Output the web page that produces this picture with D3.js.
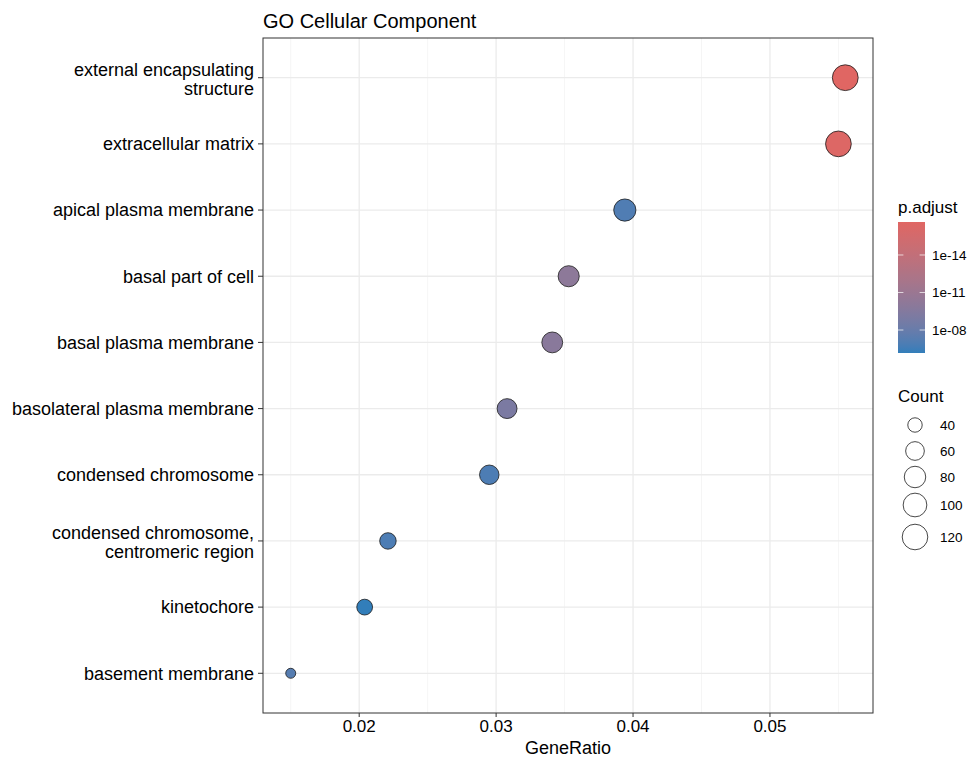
<!DOCTYPE html>
<html>
<head>
<meta charset="utf-8">
<script src="https://cdn.jsdelivr.net/npm/d3@7"></script>
<style>
  body { margin: 0; background: #fff; }
  text { font-family: "Liberation Sans", Arial, sans-serif; fill: #000; }
</style>
</head>
<body>
<script>
// GO terms, top to bottom
const terms = [
    "external encapsulating structure",
    "extracellular matrix",
    "apical plasma membrane",
    "basal part of cell",
    "basal plasma membrane",
    "basolateral plasma membrane",
    "condensed chromosome",
    "condensed chromosome, centromeric region",
    "kinetochore",
    "basement membrane"
];
const geneRatio = [0.0555, 0.0550, 0.0394, 0.0353, 0.0341, 0.0308, 0.0295, 0.0221, 0.0204, 0.0150];
const counts = [122, 121, 86, 77, 75, 68, 65, 48, 45, 33];
const pAdjust = [2.3e-17, 4.0e-17, 1.0e-7, 8.0e-11, 1.5e-10, 1.0e-9, 1.2e-7, 1.2e-7, 6.9e-7, 6.0e-8];

const xTicks = [0.02, 0.03, 0.04, 0.05];
const xMinor = [0.015, 0.025, 0.035, 0.045, 0.055];
const pTicks = [1e-14, 1e-11, 1e-8];
const pTickLabels = ["1e-14", "1e-11", "1e-08"];
const countBreaks = [40, 60, 80, 100, 120];

const width = 970, height = 760;
const panel = {left: 263, right: 873, top: 38, bottom: 713};

const svg = d3.select("body").append("svg")
    .attr("width", width)
    .attr("height", height);

// wrap labels at 30 characters, like str_wrap
function wrap(s, n = 30) {
    const words = s.split(" ");
    const lines = [];
    let cur = "";
    words.forEach(w => {
        if (cur.length === 0) cur = w;
        else if ((cur + " " + w).length > n) { lines.push(cur); cur = w; }
        else cur += " " + w;
    });
    lines.push(cur);
    return lines;
}

// scales
const xExt = d3.extent(geneRatio);
const xPad = (xExt[1] - xExt[0]) * 0.05;
const x = d3.scaleLinear()
    .domain([xExt[0] - xPad, xExt[1] + xPad])
    .range([panel.left, panel.right]);

const y = d3.scalePoint()
    .domain(terms)
    .range([panel.top, panel.bottom])
    .padding(0.6);

const pExt = d3.extent(pAdjust);
const color = d3.scaleLog()
    .domain(pExt)
    .range(["#e06663", "#327eba"])
    .interpolate(d3.interpolateLab);

const sizeNorm = d3.scaleLinear().domain(d3.extent(counts)).range([0, 1]);
const sizeR = d3.scaleSqrt().domain([0, 1]).range([5.0, 12.9]);
const radius = c => sizeR(Math.max(0, sizeNorm(c)));

// grid
const grid = svg.append("g");
grid.selectAll(".minor")
    .data(xMinor)
    .join("line")
    .attr("x1", d => x(d)).attr("x2", d => x(d))
    .attr("y1", panel.top).attr("y2", panel.bottom)
    .attr("stroke", "#f0f0f0").attr("stroke-width", 0.7);
grid.selectAll(".major")
    .data(xTicks)
    .join("line")
    .attr("x1", d => x(d)).attr("x2", d => x(d))
    .attr("y1", panel.top).attr("y2", panel.bottom)
    .attr("stroke", "#ebebeb").attr("stroke-width", 1.3);
grid.selectAll(".ygrid")
    .data(terms)
    .join("line")
    .attr("x1", panel.left).attr("x2", panel.right)
    .attr("y1", d => y(d)).attr("y2", d => y(d))
    .attr("stroke", "#ebebeb").attr("stroke-width", 1.3);

// points
svg.append("g").selectAll("circle")
    .data(terms.map((t, i) => ({term: t, ratio: geneRatio[i], count: counts[i], p: pAdjust[i]})))
    .join("circle")
    .attr("cx", d => x(d.ratio))
    .attr("cy", d => y(d.term))
    .attr("r", d => radius(d.count))
    .attr("fill", d => color(d.p))
    .attr("stroke", "#1a1a1a")
    .attr("stroke-width", 0.8);

// panel border
svg.append("rect")
    .attr("x", panel.left).attr("y", panel.top)
    .attr("width", panel.right - panel.left)
    .attr("height", panel.bottom - panel.top)
    .attr("fill", "none")
    .attr("stroke", "#333333")
    .attr("stroke-width", 1);

// x axis
const xAxis = svg.append("g");
xAxis.selectAll("line")
    .data(xTicks)
    .join("line")
    .attr("x1", d => x(d)).attr("x2", d => x(d))
    .attr("y1", panel.bottom).attr("y2", panel.bottom + 4)
    .attr("stroke", "#333333");
xAxis.selectAll("text")
    .data(xTicks)
    .join("text")
    .attr("x", d => x(d))
    .attr("y", panel.bottom + 19)
    .attr("text-anchor", "middle")
    .style("font-size", "17px")
    .text(d => d3.format(".2f")(d));

svg.append("text")
    .attr("x", (panel.left + panel.right) / 2)
    .attr("y", 754)
    .attr("text-anchor", "middle")
    .style("font-size", "18px")
    .text("GeneRatio");

// y axis
const yAxis = svg.append("g");
yAxis.selectAll("line")
    .data(terms)
    .join("line")
    .attr("x1", panel.left - 5).attr("x2", panel.left)
    .attr("y1", d => y(d)).attr("y2", d => y(d))
    .attr("stroke", "#333333");
yAxis.selectAll("text")
    .data(terms)
    .join("text")
    .attr("text-anchor", "end")
    .style("font-size", "18px")
    .each(function(d) {
        const lines = wrap(d);
        const lh = 19;
        const y0 = y(d) - (lines.length - 1) * lh / 2 + (lines.length > 1 ? 8 : 6.3);
        d3.select(this).selectAll("tspan")
            .data(lines)
            .join("tspan")
            .attr("x", panel.left - 9)
            .attr("y", (l, i) => y0 + i * lh)
            .text(l => l);
    });

// title
svg.append("text")
    .attr("x", panel.left)
    .attr("y", 28)
    .style("font-size", "20px")
    .text("GO Cellular Component");

// colour legend
const bar = {x: 898, y: 222, w: 27, h: 131};
svg.append("text")
    .attr("x", bar.x).attr("y", 213)
    .style("font-size", "17px")
    .text("p.adjust");

const defs = svg.append("defs");
const grad = defs.append("linearGradient")
    .attr("id", "pgrad")
    .attr("x1", 0).attr("x2", 0).attr("y1", 0).attr("y2", 1);
const barY = d3.scaleLog().domain(pExt).range([bar.y, bar.y + bar.h]);
d3.range(0, 21).forEach(i => {
    const p = Math.pow(10, Math.log10(pExt[0]) + (Math.log10(pExt[1]) - Math.log10(pExt[0])) * i / 20);
    grad.append("stop").attr("offset", (i * 5) + "%").attr("stop-color", color(p));
});
svg.append("rect")
    .attr("x", bar.x).attr("y", bar.y)
    .attr("width", bar.w).attr("height", bar.h)
    .attr("fill", "url(#pgrad)");

const pt = svg.append("g");
pTicks.forEach((p, i) => {
    const yy = barY(p);
    pt.append("line")
        .attr("x1", bar.x).attr("x2", bar.x + 5.4)
        .attr("y1", yy).attr("y2", yy)
        .attr("stroke", "#fff").attr("stroke-opacity", 0.7);
    pt.append("line")
        .attr("x1", bar.x + bar.w - 5.4).attr("x2", bar.x + bar.w)
        .attr("y1", yy).attr("y2", yy)
        .attr("stroke", "#fff").attr("stroke-opacity", 0.7);
    pt.append("text")
        .attr("x", bar.x + bar.w + 7)
        .attr("y", yy + 4.8)
        .style("font-size", "13.5px")
        .text(pTickLabels[i]);
});

// size legend
svg.append("text")
    .attr("x", bar.x).attr("y", 402)
    .style("font-size", "17px")
    .text("Count");

const keyY = [425, 451, 477, 505, 537];
const sg = svg.append("g");
countBreaks.forEach((c, i) => {
    sg.append("circle")
        .attr("cx", 915).attr("cy", keyY[i])
        .attr("r", radius(c))
        .attr("fill", "none")
        .attr("stroke", "#1a1a1a")
        .attr("stroke-width", 0.8);
    sg.append("text")
        .attr("x", 940).attr("y", keyY[i] + 4.8)
        .style("font-size", "13.5px")
        .text(c);
});
</script>
</body>
</html>
